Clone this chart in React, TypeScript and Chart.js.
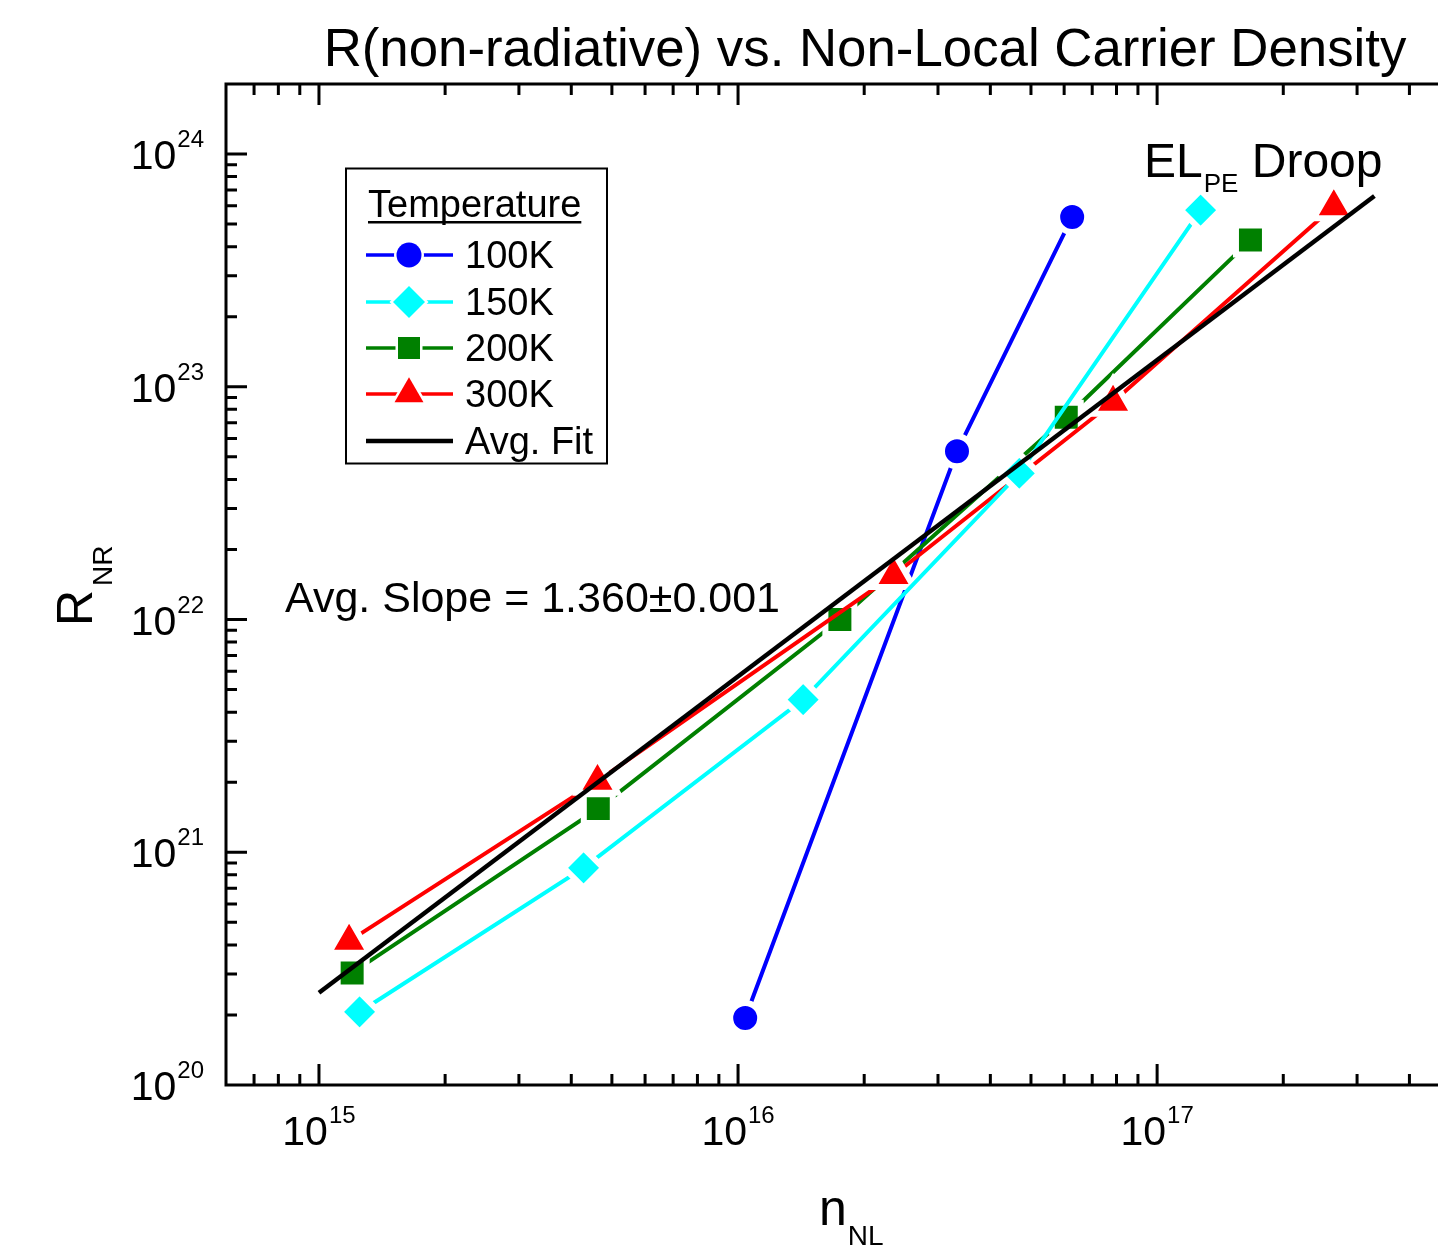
import React, { useEffect, useRef } from "react";
import { Chart, registerables } from "chart.js";

Chart.register(...registerables);

// ---------------- data ----------------
const TITLE = "R(non-radiative) vs. Non-Local Carrier Density";
const X_TITLE = "n";
const X_TITLE_SUB = "NL";
const Y_TITLE = "R";
const Y_TITLE_SUB = "NR";
const LEGEND_TITLE = "Temperature";
const SLOPE_TEXT = "Avg. Slope = 1.360±0.001";
const DROOP_TEXT = ["EL", "PE", " Droop"];

const SERIES_LABELS = ["100K", "150K", "200K", "300K"];
const FIT_LABEL = "Avg. Fit";

const N_100K = [1.04e16, 3.33e16, 6.27e16];
const R_100K = [1.94e20, 5.28e22, 5.36e23];

const N_150K = [1.25e15, 4.28e15, 1.43e16, 4.69e16, 1.27e17];
const R_150K = [2.06e20, 8.57e20, 4.53e21, 4.25e22, 5.74e23];

const N_200K = [1.2e15, 4.64e15, 1.75e16, 6.07e16, 1.67e17];
const R_200K = [3.03e20, 1.54e21, 1.0e22, 7.4e22, 4.27e23];

const N_300K = [1.18e15, 4.62e15, 2.35e16, 7.85e16, 2.64e17];
const R_300K = [4.15e20, 2.02e21, 1.55e22, 8.6e22, 5.95e23];

const N_FIT = [1e15, 3.3e17];
const R_FIT = [2.49e20, 6.6e23];

const X_TICK_EXPONENTS = [15, 16, 17];
const Y_TICK_EXPONENTS = [20, 21, 22, 23, 24];
const X_MIN = 6e14;
const X_MAX = 4.68e17;
const Y_MIN = 1e20;
const Y_MAX = 2e24;

// ---------------- styles ----------------
const FONT_FAMILY = "'Liberation Sans', Arial, Helvetica, sans-serif";
const f = (px: number) => `${px}px ${FONT_FAMILY}`;

const COLORS = ["#0000ff", "#00ffff", "#008000", "#ff0000"];
const POINT_STYLES = ["circle", "rectRot", "rect", "triangle"];
const POINT_RADII = [15, 19.7, 20.5, 23.3];
const LEGEND_MARK = [12.5, 16, 11, 16.7];
const DRAW_ORDER = [6, 3, 5, 4];
const GAP_BORDER = 6;

const SERIES_N = [N_100K, N_150K, N_200K, N_300K];
const SERIES_R = [R_100K, R_150K, R_200K, R_300K];

function markerPath(ctx: CanvasRenderingContext2D, style: string, cx: number, cy: number, r: number) {
  ctx.beginPath();
  if (style === "circle") {
    ctx.arc(cx, cy, r, 0, Math.PI * 2);
  } else if (style === "rectRot") {
    ctx.moveTo(cx - r, cy);
    ctx.lineTo(cx, cy - r);
    ctx.lineTo(cx + r, cy);
    ctx.lineTo(cx, cy + r);
  } else if (style === "rect") {
    ctx.rect(cx - r, cy - r, 2 * r, 2 * r);
  } else {
    ctx.moveTo(cx, cy - r);
    ctx.lineTo(cx + r * 0.866, cy + r / 2);
    ctx.lineTo(cx - r * 0.866, cy + r / 2);
  }
  ctx.closePath();
}

const decorPlugin = {
  id: "decor",
  afterDraw(chart: any) {
    const ctx: CanvasRenderingContext2D = chart.ctx;
    const { left, right, top, bottom } = chart.chartArea;
    const xs = chart.scales.x;
    const ys = chart.scales.y;
    ctx.save();
    ctx.strokeStyle = "#000";
    ctx.fillStyle = "#000";

    // frame (right side is beyond the canvas)
    ctx.lineWidth = 3;
    ctx.lineJoin = "miter";
    ctx.beginPath();
    ctx.moveTo(right + 5, top);
    ctx.lineTo(left, top);
    ctx.lineTo(left, bottom);
    ctx.lineTo(right + 5, bottom);
    ctx.stroke();

    // ticks (inward)
    ctx.lineCap = "butt";
    ctx.beginPath();
    for (let e = 14; e <= 18; e++) {
      for (let m = 1; m <= 9; m++) {
        const v = m * Math.pow(10, e);
        if (v <= X_MIN * 1.001 || v >= X_MAX * 0.999) continue;
        const px = xs.getPixelForValue(v);
        const len = m === 1 ? 21 : 11;
        ctx.moveTo(px, bottom);
        ctx.lineTo(px, bottom - len);
        ctx.moveTo(px, top);
        ctx.lineTo(px, top + len);
      }
    }
    for (let e = 19; e <= 25; e++) {
      for (let m = 1; m <= 9; m++) {
        const v = m * Math.pow(10, e);
        if (v <= Y_MIN * 1.001 || v >= Y_MAX * 0.999) continue;
        const py = ys.getPixelForValue(v);
        const len = m === 1 ? 21 : 11;
        ctx.moveTo(left, py);
        ctx.lineTo(left + len, py);
      }
    }
    ctx.stroke();

    // tick labels
    ctx.textAlign = "left";
    ctx.textBaseline = "alphabetic";
    for (const e of X_TICK_EXPONENTS) {
      const px = xs.getPixelForValue(Math.pow(10, e));
      ctx.font = f(41);
      const w1 = ctx.measureText("10").width;
      ctx.font = f(24);
      const w2 = ctx.measureText(String(e)).width;
      const x0 = px - (w1 + w2 + 1) / 2;
      ctx.font = f(41);
      ctx.fillText("10", x0, bottom + 60);
      ctx.font = f(24);
      ctx.fillText(String(e), x0 + w1 + 1, bottom + 38);
    }
    for (const e of Y_TICK_EXPONENTS) {
      const py = ys.getPixelForValue(Math.pow(10, e));
      ctx.font = f(41);
      const w1 = ctx.measureText("10").width;
      ctx.font = f(24);
      const w2 = ctx.measureText(String(e)).width;
      const xr = left - 22;
      ctx.font = f(41);
      ctx.fillText("10", xr - w2 - 1 - w1, py + 15);
      ctx.font = f(24);
      ctx.fillText(String(e), xr - w2, py - 7);
    }

    // chart title
    ctx.font = f(52.8);
    ctx.textAlign = "center";
    ctx.fillText(TITLE, 865, 66);
    ctx.textAlign = "left";

    // x axis title
    ctx.font = f(50);
    ctx.fillText(X_TITLE, 819, 1225);
    const wn = ctx.measureText(X_TITLE).width;
    ctx.font = f(28);
    ctx.fillText(X_TITLE_SUB, 819 + wn + 1, 1245);

    // y axis title (rotated)
    ctx.save();
    ctx.translate(92, 626);
    ctx.rotate(-Math.PI / 2);
    ctx.font = f(50);
    ctx.fillText(Y_TITLE, 0, 0);
    const wR = ctx.measureText(Y_TITLE).width;
    ctx.font = f(28);
    ctx.fillText(Y_TITLE_SUB, wR + 4, 20);
    ctx.restore();

    // annotations
    ctx.font = f(43);
    ctx.fillText(SLOPE_TEXT, 285, 612);

    let dx = 1144;
    ctx.font = f(48);
    ctx.fillText(DROOP_TEXT[0], dx, 177);
    dx += ctx.measureText(DROOP_TEXT[0]).width + 1;
    ctx.font = f(26);
    ctx.fillText(DROOP_TEXT[1], dx, 192);
    dx += ctx.measureText(DROOP_TEXT[1]).width;
    ctx.font = f(48);
    ctx.fillText(DROOP_TEXT[2], dx, 177);

    // legend
    const LX = 346, LY = 168.5, LW = 261, LH = 295;
    ctx.fillStyle = "#fff";
    ctx.fillRect(LX, LY, LW, LH);
    ctx.strokeStyle = "#000";
    ctx.lineWidth = 2;
    ctx.strokeRect(LX, LY, LW, LH);
    ctx.fillStyle = "#000";
    ctx.font = f(38);
    ctx.fillText(LEGEND_TITLE, 368, 217);
    const wt = ctx.measureText(LEGEND_TITLE).width;
    ctx.fillRect(368, 221, wt, 2.5);

    const rows = [255, 302, 348, 394, 441];
    const labels = [...SERIES_LABELS, FIT_LABEL];
    labels.forEach((lab, i) => {
      const cy = rows[i];
      const color = i < 4 ? COLORS[i] : "#000";
      ctx.strokeStyle = color;
      ctx.lineWidth = i < 4 ? 3.5 : 4.5;
      ctx.beginPath();
      ctx.moveTo(366, cy);
      ctx.lineTo(453, cy);
      ctx.stroke();
      if (i < 4) {
        markerPath(ctx, POINT_STYLES[i], 409, cy, LEGEND_MARK[i]);
        ctx.strokeStyle = "#fff";
        ctx.lineWidth = 5;
        ctx.stroke();
        ctx.fillStyle = color;
        ctx.fill();
      }
      ctx.fillStyle = "#000";
      ctx.font = f(38);
      ctx.fillText(lab, 465, cy + 13);
    });

    ctx.restore();
  },
};

export default function App() {
  const ref = useRef<HTMLCanvasElement>(null);
  useEffect(() => {
    document.body.style.margin = "0";
    const canvas = ref.current;
    if (!canvas) return;
    const datasets: any[] = SERIES_LABELS.map((label, i) => ({
      label,
      data: SERIES_N[i].map((x, j) => ({ x, y: SERIES_R[i][j] })),
      showLine: true,
      borderColor: COLORS[i],
      borderWidth: 4,
      pointStyle: POINT_STYLES[i],
      pointRadius: POINT_RADII[i],
      pointBackgroundColor: COLORS[i],
      pointBorderColor: "#ffffff",
      pointBorderWidth: GAP_BORDER,
      order: DRAW_ORDER[i],
    }));
    datasets.push({
      label: FIT_LABEL,
      data: N_FIT.map((x, j) => ({ x, y: R_FIT[j] })),
      showLine: true,
      borderColor: "#000000",
      borderWidth: 4.5,
      pointRadius: 0,
      order: 1,
    });
    const chart = new Chart(canvas, {
      type: "scatter",
      data: { datasets },
      options: {
        responsive: false,
        animation: false,
        devicePixelRatio: 1,
        events: [],
        layout: { autoPadding: false, padding: { left: 226, right: 0, top: 84, bottom: 168 } },
        scales: {
          x: { type: "logarithmic", min: X_MIN, max: X_MAX, display: false },
          y: { type: "logarithmic", min: Y_MIN, max: Y_MAX, display: false },
        },
        plugins: {
          legend: { display: false },
          tooltip: { enabled: false },
          title: { display: false },
        },
      },
      plugins: [decorPlugin],
    } as any);
    return () => chart.destroy();
  }, []);
  return <canvas ref={ref} width={1438} height={1253} style={{ display: "block" }} />;
}
